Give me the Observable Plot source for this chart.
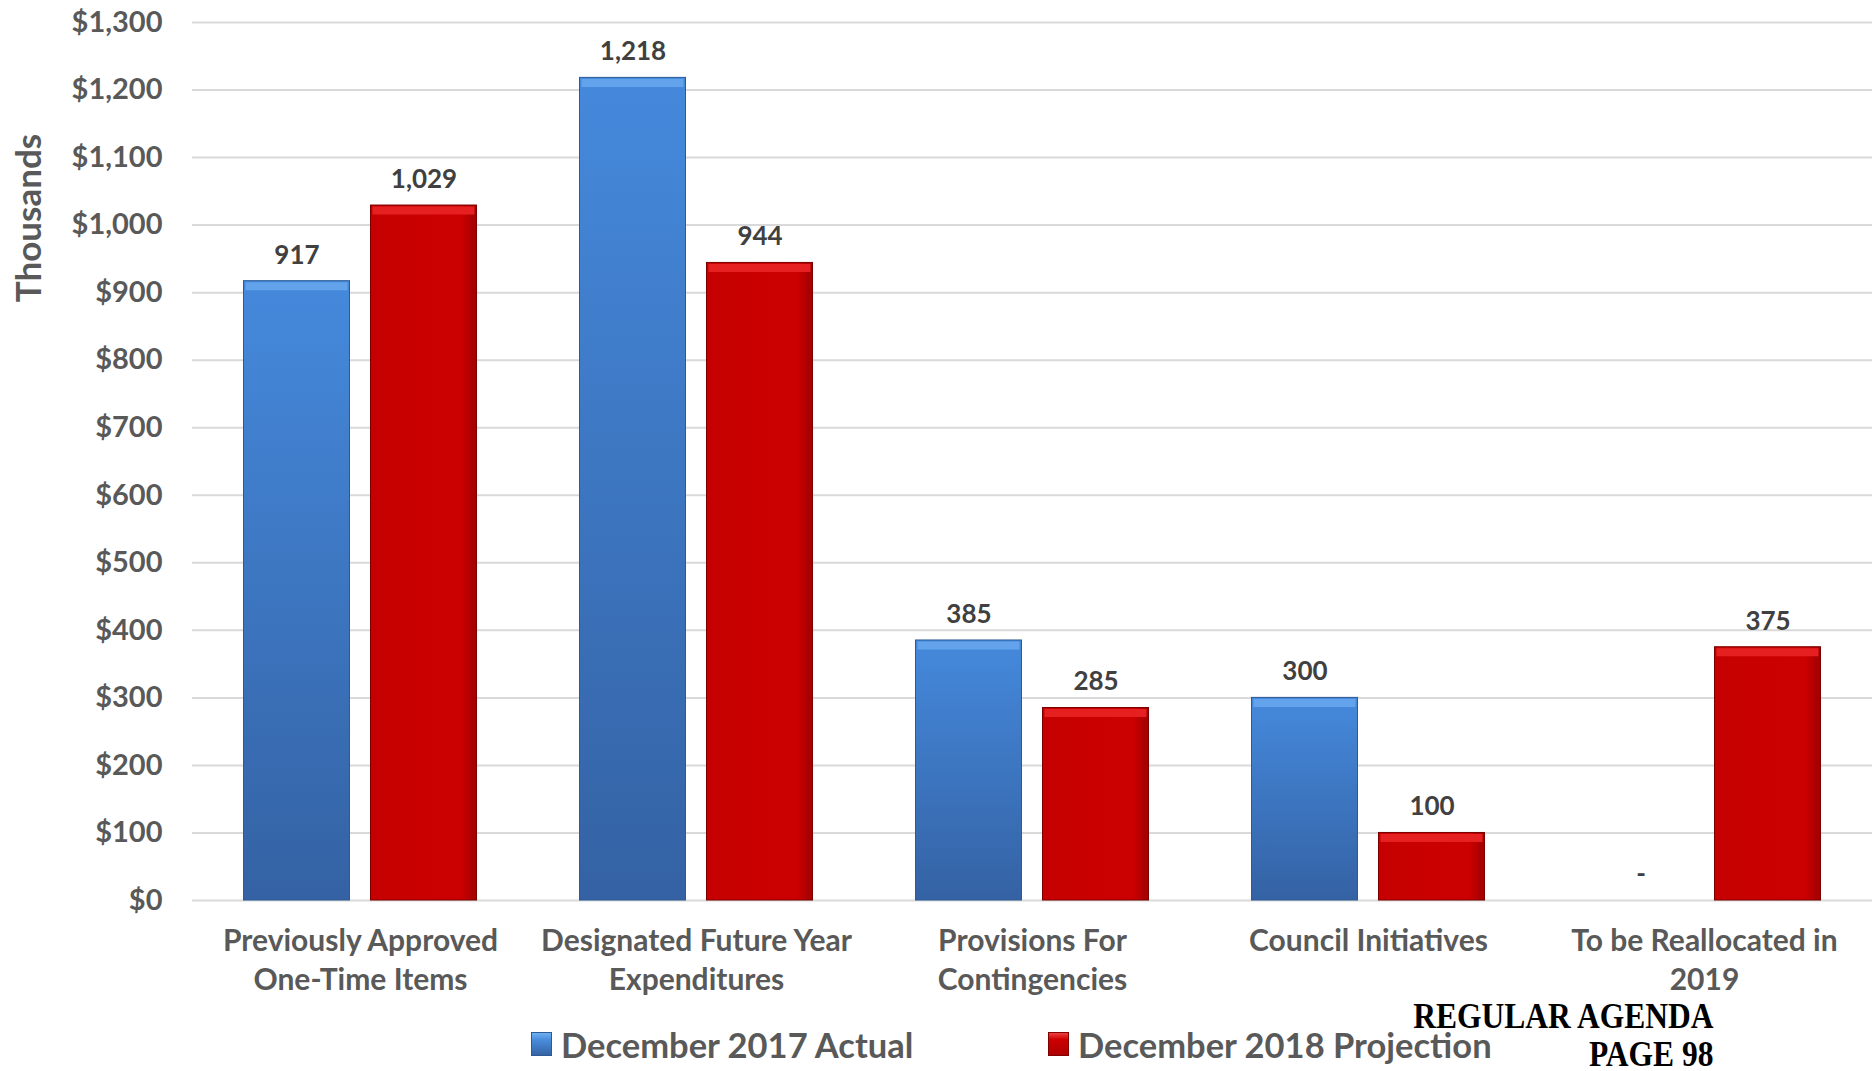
<!DOCTYPE html>
<html>
<head>
<meta charset="utf-8">
<script src="https://cdn.jsdelivr.net/npm/d3@7"></script>
<script src="https://cdn.jsdelivr.net/npm/@observablehq/plot@0.6"></script>
<style>
  html, body { margin: 0; padding: 0; background: #fff; }
  body { width: 1872px; height: 1071px; overflow: hidden; position: relative; font-family: Lato, "Noto Sans", sans-serif; }
  #chart { position: absolute; left: 0; top: 0; }
  .leg { position: absolute; top: 1025px; height: 38px; display: flex; align-items: center; font-weight: 700; font-size: 34.5px; color: #595959; white-space: nowrap; }
  .sw { width: 21px; height: 24px; margin-right: 9px; box-sizing: border-box; }
  .sw.blue { background: linear-gradient(#6fb0f2 0%, #4a8ddc 30%, #3564a6 100%); border: 1px solid #2d5a94; }
  .sw.red { background: linear-gradient(#f04040 0%, #cc0000 30%, #b00000 100%); border: 1px solid #800000; }
  #stamp { position: absolute; right: 158px; top: 998px; font-family: "Liberation Serif", "DejaVu Serif", serif; font-weight: 700; font-size: 35px; line-height: 38px; color: #000; text-align: right; transform: scaleX(0.9); transform-origin: right top; white-space: nowrap; }
</style>
</head>
<body>
<div id="chart"></div>
<div class="leg" style="left:531px"><div class="sw blue"></div><span id="l0"></span></div>
<div class="leg" style="left:1048px"><div class="sw red"></div><span id="l1"></span></div>
<div id="stamp">REGULAR AGENDA<br>PAGE 98</div>
<script>
// ---- data ----
const categories = [
  "Previously Approved\nOne-Time Items",
  "Designated Future Year\nExpenditures",
  "Provisions For\nContingencies",
  "Council Initiatives",
  "To be Reallocated in\n2019"
];
const seriesNames = ["December 2017 Actual", "December 2018 Projection"];
const actual2017 = [917, 1218, 385, 300, 0];
const projection2018 = [1029, 944, 285, 100, 375];
const yTicks = [0, 100, 200, 300, 400, 500, 600, 700, 800, 900, 1000, 1100, 1200, 1300];
const yAxisTitle = "Thousands";

document.getElementById("l0").textContent = seriesNames[0];
document.getElementById("l1").textContent = seriesNames[1];

const rows = [];
categories.forEach((c, i) => {
  rows.push({category: c, series: seriesNames[0], value: actual2017[i]});
  rows.push({category: c, series: seriesNames[1], value: projection2018[i]});
});
const blueRows = rows.filter(d => d.series === seriesNames[0] && d.value > 0);
const redRows = rows.filter(d => d.series === seriesNames[1] && d.value > 0);

const fmt = d3.format(",");
const font = "Lato, 'Noto Sans', sans-serif";

const chart = Plot.plot({
  width: 1872,
  height: 1005,
  marginLeft: 192,
  marginRight: 0,
  marginTop: 22,
  marginBottom: 105,
  style: {fontFamily: font, fontWeight: "bold", color: "#595959", background: "#fff"},
  fx: {domain: categories, padding: 0, axis: null, round: false},
  x: {domain: seriesNames, paddingInner: 0.1654, paddingOuter: 0.4055, axis: null, round: false},
  y: {domain: [0, 1300], axis: null},
  marks: [
    Plot.ruleY(yTicks, {stroke: "#d9d9d9", strokeWidth: 2}),
    Plot.barY(blueRows, {fx: "category", x: "series", y: "value", fill: "url(#gBlue)", stroke: "#2d5a94", strokeWidth: 1}),
    Plot.barY(redRows, {fx: "category", x: "series", y: "value", fill: "url(#gRed)", stroke: "#7a0000", strokeWidth: 1}),
    Plot.tickY(blueRows, {fx: "category", x: "series", y: "value", stroke: "#62a3ec", strokeWidth: 8, dy: 5, insetLeft: 2, insetRight: 2}),
    Plot.tickY(redRows, {fx: "category", x: "series", y: "value", stroke: "#e62020", strokeWidth: 8, dy: 5, insetLeft: 2, insetRight: 2}),
    Plot.text(rows, {fx: "category", x: "series", y: "value", text: d => d.value === 0 ? "-" : fmt(d.value), dy: -26, fontSize: 26, fontWeight: "bold", fill: "#404040"}),
    Plot.text(categories, {fx: d => d, text: d => d, frameAnchor: "bottom", lineAnchor: "top", dy: 23, fontSize: 30, fontWeight: "bold", fill: "#595959", lineHeight: 1.3}),
    Plot.axisY({ticks: yTicks, tickFormat: d => "$" + fmt(d), tickSize: 0, tickPadding: 30, fontSize: 29, fontWeight: "bold", label: null})
  ]
});

const svg = d3.select(chart);
const defs = svg.insert("defs", ":first-child");
const gb = defs.append("linearGradient").attr("id", "gBlue").attr("x1", 0).attr("y1", 0).attr("x2", 0).attr("y2", 1);
gb.append("stop").attr("offset", "0%").attr("stop-color", "#4589dc");
gb.append("stop").attr("offset", "100%").attr("stop-color", "#3462a4");
const gr = defs.append("linearGradient").attr("id", "gRed").attr("x1", 0).attr("y1", 0).attr("x2", 1).attr("y2", 0);
gr.append("stop").attr("offset", "0%").attr("stop-color", "#c60000");
gr.append("stop").attr("offset", "85%").attr("stop-color", "#cc0000");
gr.append("stop").attr("offset", "100%").attr("stop-color", "#a00000");

svg.append("text")
  .attr("transform", "translate(27,218) rotate(-90)")
  .attr("text-anchor", "middle")
  .attr("dominant-baseline", "central")
  .attr("font-size", 35)
  .attr("font-weight", "bold")
  .attr("fill", "#595959")
  .text(yAxisTitle);

document.getElementById("chart").appendChild(chart);
</script>
</body>
</html>
